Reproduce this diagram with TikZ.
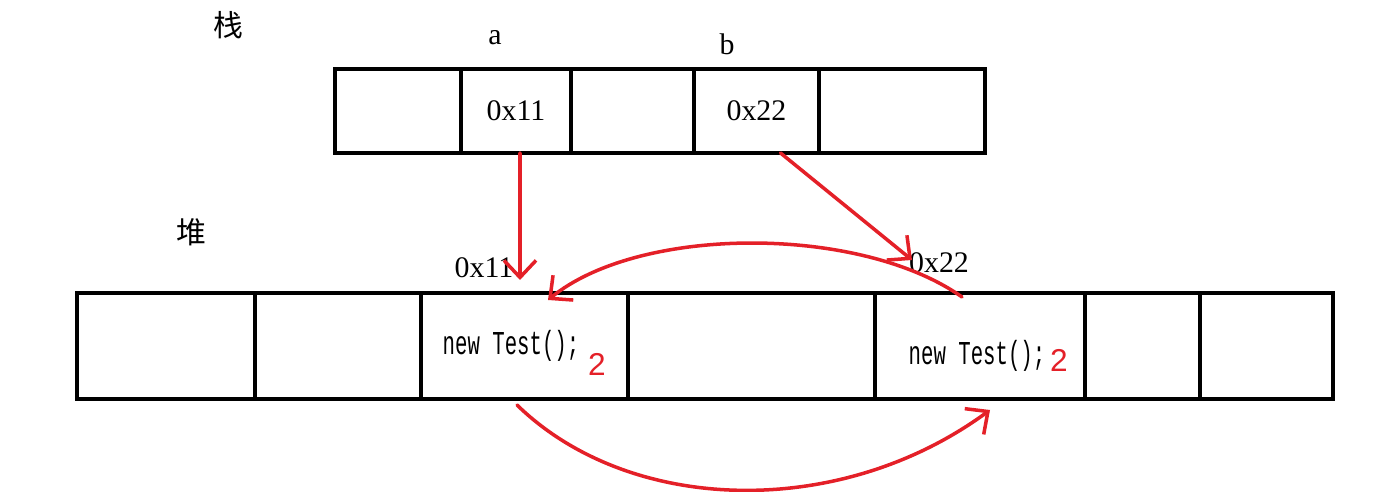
\documentclass[tikz,border=0pt]{standalone}
\usepackage{fontspec}
\setmainfont{Liberation Serif}
\newfontfamily\cjk{Noto Sans CJK SC}
\newfontfamily\codefont[FakeStretch=0.62]{Liberation Mono}
\newfontfamily\numfont{Liberation Sans}
\usepackage{tikz}
\usetikzlibrary{arrows.meta, positioning}
\definecolor{penred}{RGB}{228,32,40}
\tikzset{
  memcell/.style={
    draw, line width=2.2pt, outer sep=0pt, inner sep=0pt,
    anchor=north west, fill=white,
    font=\fontsize{17}{20}\selectfont
  },
  stackcell/.style={memcell, minimum height=1.68cm},
  heapcell/.style={memcell, minimum height=2.12cm},
  zonelabel/.style={font=\cjk\fontsize{17}{20}\selectfont},
  varlabel/.style={font=\fontsize{17}{20}\selectfont},
  codetext/.style={font=\codefont\fontsize{19}{22}\selectfont},
  refcount/.style={font=\numfont\fontsize{18}{20}\selectfont, text=penred},
  refarrow/.style={
    line width=2pt, draw=penred, line cap=round,
    -{Straight Barb[length=3.4mm, width=6.4mm, line width=2pt]}
  },
}
\begin{document}
\begin{tikzpicture}[x=0.02cm, y=-0.02cm]
  \useasboundingbox (0,0) rectangle (1400,492);

  % Stack
  \node[zonelabel] (stacklbl) at (228,25) {栈};
  \node[stackcell, minimum width=2.52cm] (s1) at (335,69) {};
  \node[stackcell, minimum width=2.2cm] (s2) at (461,69) {0x11};
  \node[stackcell, minimum width=2.46cm] (s3) at (571,69) {};
  \node[stackcell, minimum width=2.5cm] (s4) at (694,69) {0x22};
  \node[stackcell, minimum width=3.32cm] (s5) at (819,69) {};
  \node[varlabel] (vara) at (495,38) {a};
  \node[varlabel] (varb) at (727,44) {b};

  % Heap
  \node[zonelabel] (heaplbl) at (191,232) {堆};
  \node[heapcell, minimum width=3.56cm] (h1) at (77,293) {};
  \node[heapcell, minimum width=3.32cm] (h2) at (255,293) {};
  \node[heapcell, minimum width=4.14cm] (h3) at (421,293) {};
  \node[heapcell, minimum width=4.94cm] (h4) at (628,293) {};
  \node[heapcell, minimum width=4.2cm] (h5) at (875,293) {};
  \node[heapcell, minimum width=2.3cm] (h6) at (1085,293) {};
  \node[heapcell, minimum width=2.66cm] (h7) at (1200,293) {};
  \node[varlabel] (addra) at (484,268) {0x11};
  \node[varlabel] (addrb) at (939,263) {0x22};

  % Objects
  \node[codetext] (obja) at (511,346) {new Test();};
  \node[refcount] (cnta) at (597,364) {2};
  \node[codetext] (objb) at (977,356) {new Test();};
  \node[refcount] (cntb) at (1059,360) {2};

  % References
  \coordinate (enda) at (520,280);
  \coordinate (endb) at (912,260);
  \draw[refarrow] ([xshift=0.08cm]s2.south) -- (enda);
  \draw[refarrow] ([xshift=0.48cm]s4.south) -- (endb);
  \coordinate (backfrom) at (962,297);
  \coordinate (backto) at (548,300);
  \draw[refarrow] (backfrom) .. controls (860,225) and (640,225) .. (backto);
  \coordinate (fwdfrom) at (517,405);
  \coordinate (fwdto) at (990,410);
  \draw[refarrow] (fwdfrom) .. controls (630,515) and (840,520) .. (fwdto);
\end{tikzpicture}
\end{document}
